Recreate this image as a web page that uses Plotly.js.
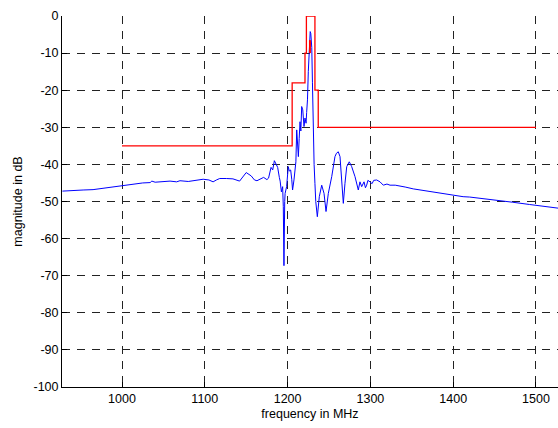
<!DOCTYPE html>
<html>
<head>
<meta charset="utf-8">
<script src="https://cdn.plot.ly/plotly-3.0.1.min.js"></script>
<style>html,body{margin:0;padding:0;background:#fff}#chart{width:558px;height:428px}</style>
</head>
<body>
<div id="chart"></div>
<script>
// measured spectrum (blue)
const specFreq = [928,940,953,965,975,985,1000,1015,1025,1034,1036,1040,1050,1058,1066,1070,1080,1086,1098,1105,1110,1114,1118,1126,1134,1142,1146,1150,1156,1160,1163,1168,1171,1175,1177,1180,1182,1184,1186,1188,1190,1191,1192.5,1194,1194.8,1195.6,1196.5,1197,1198.8,1200,1200.8,1202,1203.7,1205,1206,1207.7,1209,1210,1211,1212,1213,1214,1215,1216,1217,1218.3,1219,1219.8,1221,1222.3,1223,1224,1225,1226,1226.8,1227.3,1228,1228.5,1229.2,1230,1231,1232,1233,1234,1235.9,1237,1238.3,1241.2,1244,1246.4,1249.2,1253.3,1257.2,1259,1261.2,1263.3,1265.3,1267.3,1269.3,1271.4,1274.5,1277.4,1281.4,1285.4,1287.4,1289.5,1292.3,1294,1295.5,1297,1299.5,1302,1304,1307.6,1311.6,1315.6,1320,1323.7,1330,1335.7,1342,1351.8,1360,1372,1380,1392,1400,1412,1420,1432,1452,1472,1492,1513,1527];
const specDb = [-47.2,-47.0,-46.9,-46.8,-46.5,-46.2,-45.7,-45.4,-45.0,-44.9,-44.5,-44.8,-44.7,-44.5,-44.7,-44.4,-44.6,-44.4,-44.0,-44.2,-44.7,-44.2,-43.8,-43.8,-43.9,-44.5,-43.2,-42.2,-43.1,-44.2,-44.4,-43.7,-43.5,-44.1,-43.7,-40.8,-41.5,-39.0,-40.0,-40.8,-43.5,-44.5,-47.4,-46.0,-51.4,-67.3,-50.0,-47.8,-46.0,-42.0,-40.6,-41.8,-41.5,-44.0,-46.9,-44.2,-41.0,-39.3,-30.7,-36.0,-37.9,-33.0,-28.5,-31.0,-24.4,-25.3,-28.0,-29.8,-27.5,-28.9,-26.0,-22.6,-15.0,-8.0,-5.0,-4.2,-4.7,-6.0,-8.5,-18.0,-33.4,-40.0,-45.1,-50.0,-54.1,-50.5,-48.7,-45.6,-47.8,-52.7,-47.8,-43.3,-37.9,-37.0,-36.6,-37.9,-43.3,-50.5,-45.1,-40.6,-39.3,-40.6,-43.3,-46.9,-44.7,-46.0,-44.7,-46.3,-45.6,-44.3,-44.7,-45.2,-44.3,-44.2,-44.7,-45.6,-45.3,-45.6,-45.6,-45.8,-46.1,-46.6,-46.9,-47.4,-47.6,-48.0,-48.3,-48.7,-48.8,-49.1,-49.6,-50.2,-50.8,-51.4,-51.8];
// spectral mask (red)
const maskFreq = [1000,1205.5,1205.5,1221,1221,1222.7,1222.7,1233,1233,1237,1237,1500];
const maskDb   = [-35,-35,-18,-18,-10,-10,0,0,-20,-20,-30,-30];
// small red mark inside peak
const markFreq = [1227,1227];
const markDb = [-6.5,-10];
// ticks
const xTicks = [1000,1100,1200,1300,1400,1500];
const yTicks = [0,-10,-20,-30,-40,-50,-60,-70,-80,-90,-100];
const yTickText = ["0","-10","-20","-30","-40","-50","-60","-70","-80","-90","-100"];

const font = {family: "Liberation Sans, Arial, sans-serif", size: 12.5, color: "#000"};
const traces = [
  {x: specFreq, y: specDb, type: "scatter", mode: "lines", line: {color: "#0000ff", width: 1}, hoverinfo: "skip"},
  {x: maskFreq, y: maskDb, type: "scatter", mode: "lines", line: {color: "#ff0000", width: 1.3}, hoverinfo: "skip"},
  {x: markFreq, y: markDb, type: "scatter", mode: "lines", line: {color: "#ff0000", width: 2}, hoverinfo: "skip"}
];
const layout = {
  width: 558, height: 428,
  margin: {l: 62, r: 0, t: 16, b: 41, pad: 0},
  paper_bgcolor: "#fff", plot_bgcolor: "#fff",
  showlegend: false,
  font: font,
  xaxis: {
    range: [927.5, 1526.6], tickvals: xTicks, ticktext: xTicks.map(String),
    ticks: "inside", ticklen: 5, tickcolor: "#000", tickwidth: 1,
    showline: true, linecolor: "#000", linewidth: 1, mirror: false,
    showgrid: true, gridcolor: "#222", gridwidth: 1, griddash: "8px,7px",
    zeroline: false, tickfont: font,
    title: {text: "frequency in MHz", font: font, standoff: 4}
  },
  yaxis: {
    range: [-100, 0], tickvals: yTicks, ticktext: yTickText,
    ticks: "inside", ticklen: 5, tickcolor: "#000", tickwidth: 1,
    showline: true, linecolor: "#000", linewidth: 1, mirror: false,
    showgrid: true, gridcolor: "#222", gridwidth: 1, griddash: "8px,7px",
    zeroline: false, tickfont: font,
    title: {text: "magnitude in dB", font: font, standoff: 8}
  }
};
Plotly.newPlot("chart", traces, layout, {staticPlot: true, displayModeBar: false});
</script>
</body>
</html>
